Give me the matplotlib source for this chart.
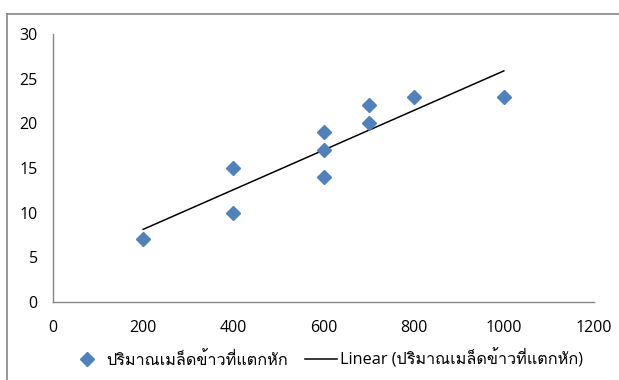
import numpy as np
import matplotlib
matplotlib.use("Agg")
import matplotlib.pyplot as plt
from matplotlib import font_manager
from matplotlib.ft2font import FT2Font
from matplotlib.lines import Line2D

x_vals = [200, 400, 400, 600, 600, 600, 700, 700, 800, 1000]
y_vals = [7, 15, 10, 19, 17, 14, 22, 20, 23, 23]
series_name = "ปริมาณเมล็ดข้าวที่แตกหัก"
trend_name = "Linear (ปริมาณเมล็ดข้าวที่แตกหัก)"
x_ticks = [0, 200, 400, 600, 800, 1000, 1200]
y_ticks = [0, 5, 10, 15, 20, 25, 30]

# find a font with Thai glyphs
thai_family = None
for f in font_manager.fontManager.ttflist:
    try:
        cm = FT2Font(f.fname).get_charmap()
        if ord("ป") in cm and ord("ั") in cm:
            thai_family = f.name
            break
    except Exception:
        pass
families = ["Open Sans"]
if thai_family:
    families.append(thai_family)
families.append("DejaVu Sans")
plt.rcParams["font.family"] = families

fig = plt.figure(figsize=(6.19, 3.80), dpi=100)
ax = fig.add_axes([53/619, 1-302/380, 541/619, 268/380])

ax.plot(x_vals, y_vals, linestyle="none", marker="D", markersize=7.5,
        color="#4F81BD", zorder=3)
k, b = np.polyfit(x_vals, y_vals, 1)
xs = np.array([min(x_vals), max(x_vals)])
ax.plot(xs, k*xs + b, color="black", linewidth=1.1, zorder=2)

ax.set_xlim(0, 1200)
ax.set_ylim(0, 30)
ax.set_xticks(x_ticks)
ax.set_yticks(y_ticks)
ax.tick_params(length=0, labelsize=11.5)
ax.tick_params(axis="x", pad=13)
ax.tick_params(axis="y", pad=11)
for s in ["top", "right"]:
    ax.spines[s].set_visible(False)
for s in ["left", "bottom"]:
    ax.spines[s].set_color("#868686")
    ax.spines[s].set_linewidth(1)

handles = [Line2D([], [], linestyle="none", marker="D", markersize=7.5, color="#4F81BD"),
           Line2D([], [], color="black", linewidth=1.1)]
fig.legend(handles, [series_name, trend_name], loc="center", ncol=2,
           bbox_to_anchor=(327/619, 1-359/380), frameon=False, fontsize=11.7,
           handlelength=2.0, handletextpad=0.2, columnspacing=1.0)

# chart border (top and left visible)
fig.add_artist(Line2D([7/619, 1], [1-14/380, 1-14/380], color="#868686", linewidth=1.2,
                      transform=fig.transFigure))
fig.add_artist(Line2D([7/619, 7/619], [0, 1-14/380], color="#868686", linewidth=1.2,
                      transform=fig.transFigure))

fig.savefig("out.png", dpi=100)
